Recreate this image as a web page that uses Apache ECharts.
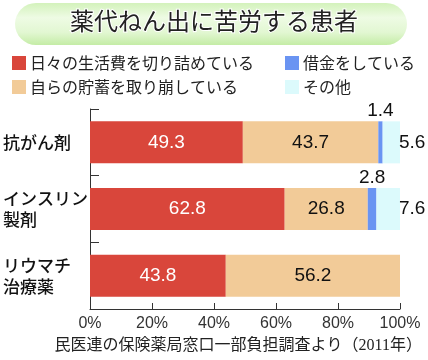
<!DOCTYPE html>
<html><head><meta charset="utf-8">
<script src="https://cdn.jsdelivr.net/npm/echarts@6/dist/echarts.min.js"></script>
<style>html,body{margin:0;padding:0;background:#fff}#c{width:428px;height:360px}</style>
</head><body><div id="c"></div>
<script>
const title = '薬代ねん出に苦労する患者';
const source = '民医連の保険薬局窓口一部負担調査より（2011年）';
const categories = ['抗がん剤', 'インスリン\n製剤', 'リウマチ\n治療薬'];
const seriesNames = ['日々の生活費を切り詰めている', '自らの貯蓄を取り崩している', '借金をしている', 'その他'];
const cutLiving = [49.3, 62.8, 43.8];
const savings = [43.7, 26.8, 56.2];
const debt = [1.4, 2.8, 0];
const other = [5.6, 7.6, 0];
const xTicks = [0, 20, 40, 60, 80, 100];

const colors = ['#d9463b', '#f2cb98', '#6a94f2', '#dcfafc'];
const jp = '"Noto Sans CJK JP", sans-serif';
const num = '"Liberation Sans", Arial, sans-serif';

const chart = echarts.init(document.getElementById('c'), null, {renderer: 'canvas'});
const fmt = p => p.value ? p.value.toFixed(1) : '';

function legendAt(name, left, top) {
  return {
    data: [name], left: left, top: top, orient: 'horizontal',
    icon: 'rect', itemWidth: 14, itemHeight: 14, itemGap: 0, padding: 0,
    selectedMode: false,
    textStyle: {fontFamily: jp, fontSize: 16, color: '#222', padding: [0, 0, 0, -1]}
  };
}

const option = {
  animation: false,
  backgroundColor: '#fff',
  graphic: [
    {type: 'rect', shape: {x: 15, y: 3, width: 392, height: 42, r: 21},
     style: {fill: new echarts.graphic.LinearGradient(0, 0, 0, 1, [
       {offset: 0, color: '#d3f2bb'}, {offset: 0.35, color: '#eefbe4'},
       {offset: 0.7, color: '#e2f7d2'}, {offset: 1, color: '#c4eca6'}])}},
    {type: 'text', left: 'center', top: 8, style: {text: title, fontFamily: jp, fontSize: 24,
      fill: '#222', stroke: '#ffffff', lineWidth: 2}},
    {type: 'text', right: 6, top: 338, style: {text: source, fontFamily: '"Liberation Serif", "Noto Sans CJK JP", serif',
      fontSize: 16, fill: '#222'}}
  ],
  legend: [
    legendAt(seriesNames[0], 12, 55),
    legendAt(seriesNames[2], 285, 55),
    legendAt(seriesNames[1], 12, 79),
    legendAt(seriesNames[3], 285, 79)
  ],
  grid: {left: 88, right: 28, top: 109, bottom: 51},
  xAxis: {
    type: 'value', min: 0, max: 100, interval: 20,
    axisLine: {show: true, lineStyle: {color: '#333'}},
    axisTick: {show: true, inside: true, length: 6, lineStyle: {color: '#333'}},
    splitLine: {show: false},
    axisLabel: {formatter: v => xTicks.includes(v) ? v + '%' : '', fontFamily: num, fontSize: 16, color: '#333', margin: 7}
  },
  yAxis: {
    type: 'category', data: categories, inverse: true,
    axisLine: {show: true, lineStyle: {color: '#333'}},
    axisTick: {show: true, inside: true, length: 9, lineStyle: {color: '#333'}},
    axisLabel: {align: 'left', margin: 87, fontFamily: jp, fontSize: 17, fontWeight: 500, color: '#111', lineHeight: 21}
  },
  series: [
    {name: seriesNames[0], type: 'bar', stack: 'a', data: cutLiving, barWidth: 42, itemStyle: {color: colors[0]},
     label: {show: true, position: 'inside', color: '#fff', fontFamily: num, fontSize: 19, formatter: fmt}},
    {name: seriesNames[1], type: 'bar', stack: 'a', data: savings, itemStyle: {color: colors[1]},
     label: {show: true, position: 'inside', color: '#111', fontFamily: num, fontSize: 19, formatter: fmt}},
    {name: seriesNames[2], type: 'bar', stack: 'a', data: debt, itemStyle: {color: colors[2]},
     label: {show: true, position: 'top', distance: 1, color: '#111', fontFamily: num, fontSize: 19, formatter: fmt}},
    {name: seriesNames[3], type: 'bar', stack: 'a', data: other, itemStyle: {color: colors[3]},
     label: {show: true, position: 'right', distance: -1, color: '#111', fontFamily: num, fontSize: 19, formatter: fmt}}
  ]
};
chart.setOption(option);
</script></body></html>
